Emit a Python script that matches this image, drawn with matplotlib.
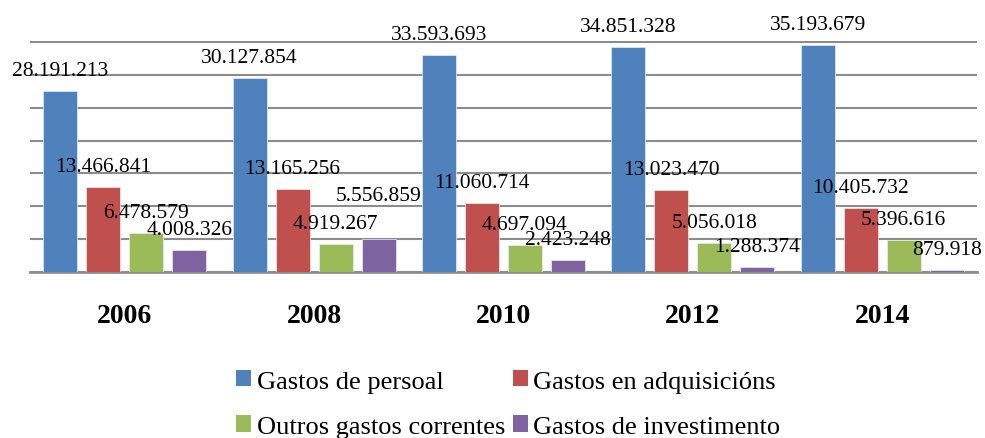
import matplotlib
matplotlib.use("Agg")
import matplotlib.pyplot as plt
from matplotlib.patches import Patch
import numpy as np

years = ["2006", "2008", "2010", "2012", "2014"]
series_names = ["Gastos de persoal", "Gastos en adquisicións",
                "Outros gastos correntes", "Gastos de investimento"]
persoal = [28191213, 30127854, 33593693, 34851328, 35193679]
adquisicions = [13466841, 13165256, 11060714, 13023470, 10405732]
correntes = [6478579, 4919267, 4697094, 5056018, 5396616]
investimento = [4008326, 5556859, 2423248, 1288374, 879918]
label_texts = [
    ["28.191.213", "30.127.854", "33.593.693", "34.851.328", "35.193.679"],
    ["13.466.841", "13.165.256", "11.060.714", "13.023.470", "10.405.732"],
    ["6.478.579", "4.919.267", "4.697.094", "5.056.018", "5.396.616"],
    ["4.008.326", "5.556.859", "2.423.248", "1.288.374", "879.918"],
]

colors = ["#4F81BD", "#C0504D", "#9BBB59", "#8064A2"]
# label baseline offsets above bar top (pixels)
label_offsets = [
    [16, 16, 16, 16, 16],
    [16, 16, 16, 16, 16],
    [16, 16, 16, 16, 16],
    [16, 39, 16, 16, 16],
]

plt.rcParams['font.family'] = ['Liberation Serif', 'DejaVu Serif']

fig = plt.figure(figsize=(9.85, 4.39), dpi=100)
ax = fig.add_axes([30/985, 166/439, 947/985, 231/439])

data = [persoal, adquisicions, correntes, investimento]
x = np.arange(len(years))
step = 0.227
width = 0.18
axis_min = 0.6e6
for i, (vals, c) in enumerate(zip(data, colors)):
    pos = x + (i - 1.5) * step
    ax.bar(pos, vals, width=width, color=c, edgecolor='#E8EEF6', linewidth=0.5, zorder=3)
    for j, (p, v) in enumerate(zip(pos, vals)):
        ax.annotate(label_texts[i][j], (p, v), xytext=(0, label_offsets[i][j]),
                    textcoords='offset pixels', ha='center', va='baseline',
                    fontsize=15.5, color='black', zorder=5)

ax.set_xlim(-0.5, len(years) - 0.5)
ax.set_ylim(axis_min, axis_min + 35.15e6)
ax.set_yticks(axis_min + np.arange(0, 35.1e6, 5e6))
ax.yaxis.grid(True, color='#8C8C8C', linewidth=1.5, zorder=0)
ax.set_yticklabels([])
ax.tick_params(axis='y', length=0)
ax.tick_params(axis='x', length=0, pad=22)
ax.set_xticks(x)
ax.set_xticklabels(years, fontsize=20, fontweight='bold')
for s in ['top', 'right', 'left']:
    ax.spines[s].set_visible(False)
ax.spines['bottom'].set_color('#8C8C8C')
ax.spines['bottom'].set_linewidth(2)
ax.spines['bottom'].set_zorder(1)
ax.set_facecolor('none')

handles = [Patch(facecolor=c, edgecolor='none') for c in colors]
order = [0, 2, 1, 3]
fig.legend([handles[k] for k in order], [series_names[k] for k in order],
           loc='upper left', bbox_to_anchor=(236/985, 1 - 371/439),
           ncol=2, frameon=False, fontsize=19, handlelength=0.58, handleheight=0.58,
           handletextpad=0.2, columnspacing=0.3, labelspacing=0.87,
           borderpad=0, borderaxespad=0)

fig.savefig("out.png", dpi=100)
